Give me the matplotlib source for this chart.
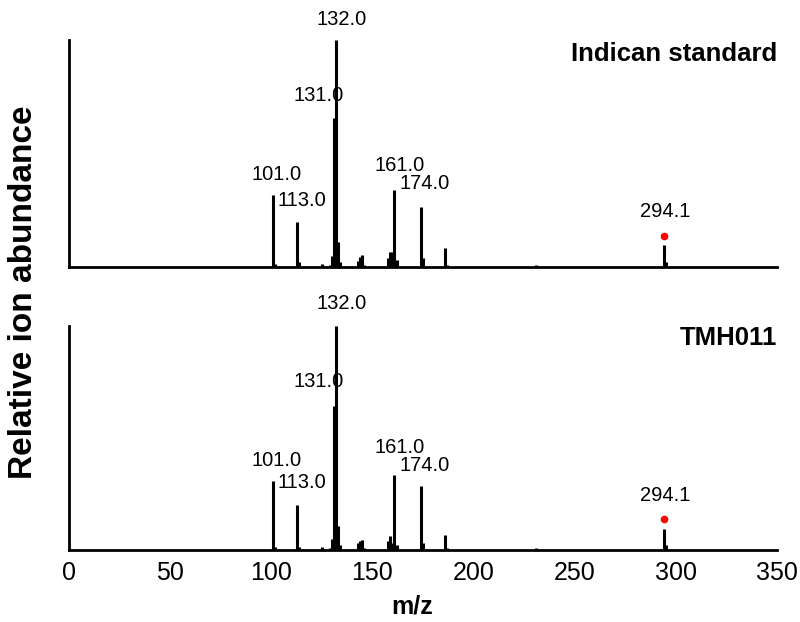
import matplotlib
matplotlib.use("Agg")
import matplotlib.pyplot as plt

plt.rcParams['font.family'] = ['Liberation Sans', 'DejaVu Sans']

# peak lists (m/z, relative abundance)
std_mz = [101, 102, 113, 114, 125, 129, 130, 131, 132, 133, 134, 143, 144, 145, 146,
          158, 159, 160, 161, 162, 174, 175, 186, 187, 231, 294, 295]
std_int = [0.317, 0.012, 0.198, 0.02, 0.015, 0.01, 0.05, 0.656, 1.0, 0.11, 0.02, 0.025, 0.045, 0.053, 0.01,
           0.04, 0.067, 0.067, 0.339, 0.03, 0.264, 0.04, 0.084, 0.01, 0.01, 0.097, 0.02]

tmh_mz = [101, 102, 113, 114, 125, 129, 130, 131, 132, 133, 134, 143, 144, 145, 146,
          158, 159, 160, 161, 162, 174, 175, 186, 187, 231, 294, 295]
tmh_int = [0.306, 0.015, 0.202, 0.015, 0.015, 0.008, 0.05, 0.643, 1.0, 0.105, 0.02, 0.03, 0.04, 0.045, 0.01,
           0.04, 0.063, 0.03, 0.336, 0.02, 0.284, 0.03, 0.067, 0.01, 0.01, 0.094, 0.02]

# annotated peaks: text, x, y
std_labels = [("132.0", 134.7, 1.05), ("131.0", 123.6, 0.714), ("101.0", 102.8, 0.366),
              ("113.0", 115.0, 0.251), ("161.0", 163.4, 0.405), ("174.0", 176.0, 0.326),
              ("294.1", 295.0, 0.204)]
tmh_labels = [("132.0", 134.7, 1.06), ("131.0", 123.6, 0.71), ("101.0", 102.8, 0.359),
              ("113.0", 115.0, 0.261), ("161.0", 163.4, 0.417), ("174.0", 176.0, 0.336),
              ("294.1", 295.0, 0.202)]

marker_mz = 294.1
std_marker = 0.137
tmh_marker = 0.139

fig = plt.figure(figsize=(8, 6.22), dpi=100)
ax1 = fig.add_axes([0.086, 0.5707, 0.885, 0.365])
ax2 = fig.add_axes([0.086, 0.1158, 0.885, 0.360])


def draw_spectrum(ax, mz, inten, labels, marker_y, title, title_y):
    ax.vlines(mz, 0, inten, color='black', linewidth=2.2)
    ax.plot([marker_mz], [marker_y], 'o', color='red', markersize=4.5, clip_on=False)
    for txt, x, y in labels:
        ax.text(x, y, txt, ha='center', va='bottom', fontsize=14.5, clip_on=False)
    ax.text(1.0, title_y, title, transform=ax.transAxes, ha='right', va='center',
            fontsize=18.5, fontweight='bold')
    ax.set_xlim(0, 350)
    ax.set_ylim(0, 1.0)
    ax.spines['top'].set_visible(False)
    ax.spines['right'].set_visible(False)
    ax.spines['left'].set_linewidth(2)
    ax.spines['bottom'].set_linewidth(2)
    ax.set_yticks([])
    ax.tick_params(axis='x', length=0, labelsize=18, pad=8)


draw_spectrum(ax1, std_mz, std_int, std_labels, std_marker, "Indican standard", 0.94)
draw_spectrum(ax2, tmh_mz, tmh_int, tmh_labels, tmh_marker, "TMH011", 0.945)

ax1.set_xticks([])
ax2.set_xticks(range(0, 351, 50))

fig.text(0.515, 0.025, "m/z", ha='center', va='center', fontsize=18, fontweight='bold')
fig.text(0.029, 0.53, "Relative ion abundance", rotation=90, ha='center', va='center',
         fontsize=24, fontweight='bold')

fig.savefig("out.png", dpi=100)
